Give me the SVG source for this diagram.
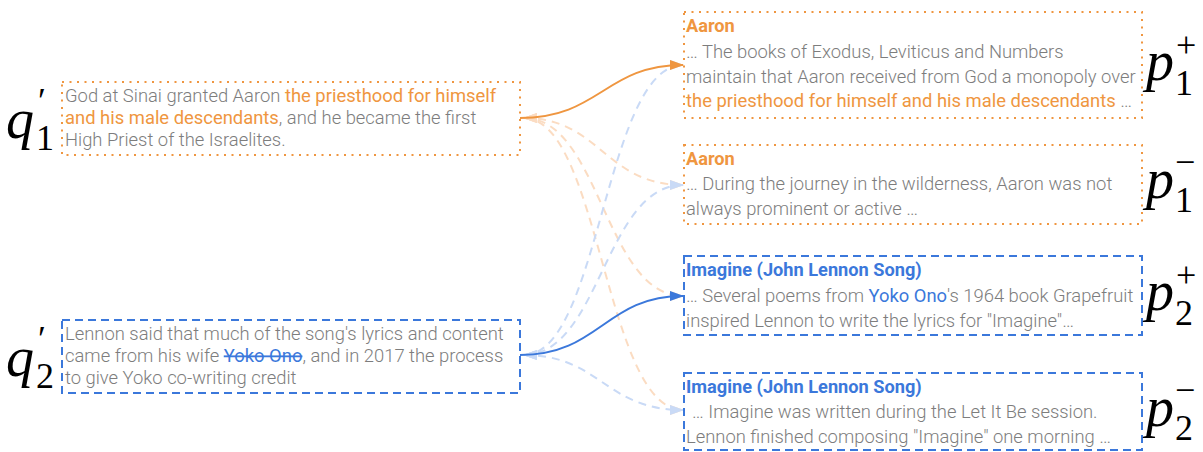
<svg xmlns="http://www.w3.org/2000/svg" width="1203" height="452" viewBox="0 0 1203 452">
<style>
.body{font-family:Roboto,"Liberation Sans",sans-serif;font-weight:300;fill:#7d7d7d}
.q{font-size:18.4px}
.p{font-size:18.4px}
.title{font-family:Roboto,"Liberation Sans",sans-serif;font-weight:700;font-size:18.2px}
.or{fill:#EF9640;font-weight:400}
.bl{fill:#3B78DB;font-weight:400}
.tor{fill:#EF9640}
.tbl{fill:#3B78DB}
.dot{fill:none;stroke:#EF9640;stroke-width:2;stroke-dasharray:2 5.5}
.dash{fill:none;stroke:#3B78DB;stroke-width:2;stroke-dasharray:8 5}
.math{font-family:"Liberation Serif","DejaVu Serif",serif;fill:#000}
.mi{font-style:italic;font-size:56px}
.ms{font-size:36px}
.c{fill:none;stroke-width:2}
.lo{stroke:#FBDCC2;stroke-dasharray:8 6}
.lb{stroke:#C9DAF6;stroke-dasharray:8 6}
</style>
<defs>
<marker id="mo" viewBox="0 0 14 10" refX="13" refY="5" markerWidth="14" markerHeight="10" markerUnits="userSpaceOnUse" orient="auto-start-reverse"><path d="M0,0 L14,5 L0,10 z" fill="#EF9640"/></marker>
<marker id="mb" viewBox="0 0 14 10" refX="13" refY="5" markerWidth="14" markerHeight="10" markerUnits="userSpaceOnUse" orient="auto-start-reverse"><path d="M0,0 L14,5 L0,10 z" fill="#3B78DB"/></marker>
<marker id="mlo" viewBox="0 0 14 10" refX="13" refY="5" markerWidth="14" markerHeight="10" markerUnits="userSpaceOnUse" orient="auto-start-reverse"><path d="M0,0 L14,5 L0,10 z" fill="#FBDCC2"/></marker>
<marker id="mlb" viewBox="0 0 14 10" refX="13" refY="5" markerWidth="14" markerHeight="10" markerUnits="userSpaceOnUse" orient="auto-start-reverse"><path d="M0,0 L14,5 L0,10 z" fill="#C9DAF6"/></marker>
</defs>
<rect width="1203" height="452" fill="#fff"/>

<g id="connectors">
<path class="c lo" d="M524,118 C600,118 605,185 683,185" marker-start="url(#mlo)" marker-end="url(#mlo)"/>
<path class="c lo" d="M524,118 C600,118 605,296 683,296" marker-start="url(#mlo)" marker-end="url(#mlo)"/>
<path class="c lo" d="M524,118 C600,118 605,410 683,410" marker-start="url(#mlo)" marker-end="url(#mlo)"/>
<path class="c lb" d="M524,355 C600,355 605,65 683,65" marker-start="url(#mlb)" marker-end="url(#mlb)"/>
<path class="c lb" d="M524,355 C600,355 605,185 683,185" marker-start="url(#mlb)" marker-end="url(#mlb)"/>
<path class="c lb" d="M524,355 C600,355 605,410 683,410" marker-start="url(#mlb)" marker-end="url(#mlb)"/>
<path class="c" stroke="#EF9640" d="M520,118 C600,118 605,65 683,65" marker-end="url(#mo)"/>
<path class="c" stroke="#3B78DB" d="M520,355 C600,355 605,296 683,296" marker-end="url(#mb)"/>
</g>

<g id="q1">
<rect class="dot" x="62" y="82" width="458" height="73"/>
<text class="body q" x="65" y="102">God at Sinai granted Aaron <tspan class="or">the priesthood for himself</tspan></text>
<text class="body q" x="65" y="124"><tspan class="or">and his male descendants</tspan>, and he became the first</text>
<text class="body q" x="65" y="146">High Priest of the Israelites.</text>
<text class="math mi" x="6" y="138">q</text>
<text class="math ms" x="38" y="113">′</text>
<text class="math ms" x="36" y="150">1</text>
</g>

<g id="q2">
<rect class="dash" x="62" y="320" width="458" height="73"/>
<text class="body q" x="65" y="340">Lennon said that much of the song's lyrics and content</text>
<text class="body q" x="65" y="362">came from his wife <tspan class="bl" text-decoration="line-through">Yoko Ono</tspan>, and in 2017 the process</text>
<text class="body q" x="65" y="384">to give Yoko co-writing credit</text>
<text class="math mi" x="6" y="376">q</text>
<text class="math ms" x="38" y="351">′</text>
<text class="math ms" x="36" y="388">2</text>
</g>

<g id="p1plus">
<rect class="dot" x="684" y="12" width="458" height="106"/>
<text class="title tor" x="686" y="32">Aaron</text>
<text class="body p" x="686" y="58">… The books of Exodus, Leviticus and Numbers</text>
<text class="body p" x="686" y="83">maintain that Aaron received from God a monopoly over</text>
<text class="body p" x="686" y="107"><tspan class="or">the priesthood for himself and his male descendants</tspan> …</text>
<text class="math mi" x="1146" y="80">p</text>
<text class="math ms" x="1175" y="95">1</text>
<text class="math ms" x="1176" y="57">+</text>
</g>

<g id="p1minus">
<rect class="dot" x="684" y="145" width="458" height="79"/>
<text class="title tor" x="686" y="165">Aaron</text>
<text class="body p" x="686" y="190">… During the journey in the wilderness, Aaron was not</text>
<text class="body p" x="686" y="215">always prominent or active …</text>
<text class="math mi" x="1146" y="198">p</text>
<text class="math ms" x="1175" y="212">1</text>
<text class="math ms" x="1175" y="174">−</text>
</g>

<g id="p2plus">
<rect class="dash" x="684" y="256" width="458" height="79"/>
<text class="title tbl" x="686" y="276">Imagine (John Lennon Song)</text>
<text class="body p" x="686" y="302">… Several poems from <tspan class="bl">Yoko Ono</tspan>'s 1964 book Grapefruit</text>
<text class="body p" x="686" y="327">inspired Lennon to write the lyrics for "Imagine"…</text>
<text class="math mi" x="1146" y="310">p</text>
<text class="math ms" x="1175" y="325">2</text>
<text class="math ms" x="1176" y="287">+</text>
</g>

<g id="p2minus">
<rect class="dash" x="684" y="373" width="458" height="77"/>
<text class="title tbl" x="686" y="393">Imagine (John Lennon Song)</text>
<text class="body p" x="692" y="418">… Imagine was written during the Let It Be session.</text>
<text class="body p" x="686" y="443">Lennon finished composing "Imagine" one morning …</text>
<text class="math mi" x="1146" y="426">p</text>
<text class="math ms" x="1175" y="440">2</text>
<text class="math ms" x="1175" y="402">−</text>
</g>
</svg>
